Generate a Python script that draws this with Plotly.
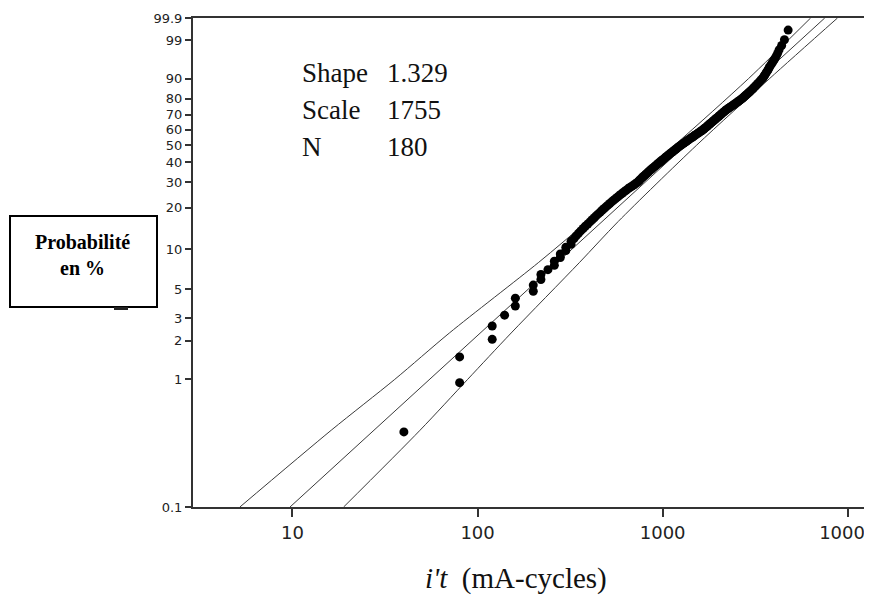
import numpy as np
import plotly.graph_objects as go

# ---- data (Weibull probability plot) ----
N_POINTS = 180
shape_txt = "1.329"
scale_txt = "1755"
n_txt = "180"

failure_x = [40, 80, 80, 120, 120, 140, 160, 160, 200, 200,
             220, 220, 240, 260, 260, 280, 280, 300, 300, 320,
             320, 332, 341, 351, 361, 372, 382, 394, 405, 416,
             427, 437, 449, 460, 471, 483, 494, 506, 518, 530,
             542, 555, 568, 581, 594, 607, 621, 635, 650, 665,
             681, 697, 713, 729, 741, 752, 764, 776, 787, 800,
             811, 824, 837, 849, 863, 877, 889, 904, 918, 931,
             946, 962, 975, 989, 1005, 1019, 1033, 1047, 1064, 1079,
             1094, 1109, 1127, 1143, 1159, 1178, 1194, 1211, 1227, 1247,
             1265, 1285, 1303, 1324, 1346, 1365, 1387, 1406, 1429, 1452,
             1472, 1496, 1517, 1542, 1567, 1589, 1614, 1637, 1663, 1683,
             1702, 1726, 1746, 1766, 1786, 1811, 1832, 1854, 1875, 1901,
             1923, 1945, 1972, 1995, 2018, 2042, 2070, 2094, 2118, 2148,
             2173, 2198, 2234, 2270, 2307, 2344, 2382, 2421, 2460, 2495,
             2535, 2576, 2618, 2661, 2698, 2735, 2773, 2812, 2851, 2891,
             2931, 2972, 3013, 3055, 3097, 3141, 3184, 3228, 3273, 3319,
             3365, 3412, 3467, 3508, 3548, 3589, 3631, 3681, 3724, 3767,
             3819, 3890, 3954, 4027, 4102, 4178, 4256, 4395, 4550, 4764]

fit_p = [0.1, 99.9]
fit_x = [9.7, 7510]

bound_p = [0.1, 0.4, 1, 2.3, 8, 16, 50, 90, 99.9]
upper_x = [5.2, 16.2, 35.7, 70.5, 214, 391, 1161, 2903, 6300]
lower_x = [18.9, 48.9, 88.4, 152, 356, 575, 1526, 3771, 8800]

y_tick_pct = [0.1, 1, 2, 3, 5, 10, 20, 30, 40, 50, 60, 70, 80, 90, 99, 99.9]
y_tick_txt = ["0.1", "1", "2", "3", "5", "10", "20", "30", "40", "50",
              "60", "70", "80", "90", "99", "99.9"]
x_tick_vals = [10, 100, 1000, 10000]
x_tick_txt = ["10", "100", "1000", "10000"]


def wb(p_pct):
    p = np.asarray(p_pct, dtype=float) / 100.0
    return np.log(-np.log(1.0 - p))


# median-rank plotting positions (Bernard)
ranks = np.arange(1, N_POINTS + 1)
pts_p = (ranks - 0.3) / (N_POINTS + 0.4) * 100.0

line_style = dict(color="#3a3a3a", width=1)

fig = go.Figure()
for xs, ps in [(upper_x, bound_p), (fit_x, fit_p), (lower_x, bound_p)]:
    fig.add_trace(go.Scatter(x=xs, y=wb(ps), mode="lines",
                             line=dict(**line_style, shape="spline", smoothing=0.8),
                             hoverinfo="skip", showlegend=False))

fig.add_trace(go.Scatter(x=failure_x, y=wb(pts_p), mode="markers",
                         marker=dict(color="black", size=9, line=dict(width=0)),
                         showlegend=False))

axis_col = "#333333"
fig.update_xaxes(type="log", range=[0.4627, 4.131],
                 showline=True, linecolor=axis_col, linewidth=2, mirror=True,
                 ticks="outside", ticklen=8, tickwidth=1.5, tickcolor=axis_col,
                 tickvals=x_tick_vals, ticktext=x_tick_txt,
                 ticklabeloverflow="allow",
                 tickfont=dict(family="DejaVu Sans", size=18, color="#222"),
                 showgrid=False, zeroline=False)
fig.update_yaxes(range=[float(wb(0.1)), float(wb(99.9))],
                 showline=True, linecolor=axis_col, linewidth=2, mirror=False,
                 ticks="outside", ticklen=6, tickwidth=1.5, tickcolor=axis_col,
                 tickvals=wb(y_tick_pct), ticktext=y_tick_txt,
                 tickfont=dict(family="DejaVu Sans", size=13, color="#222"),
                 showgrid=False, zeroline=False)

# page has an 8px body margin: work in reference coordinates, shift by OFF
OFF = 8
W, H = 872 - OFF, 596 - OFF
L, R, T = 193 - OFF, 0, 18 - OFF
B = H - (507 - OFF)
pw, ph = W - L - R, H - T - B


def px(xr):
    return (xr - OFF - L) / pw


def py(yr):
    return (H - B - (yr - OFF)) / ph


serif = "Liberation Serif"
ann = []
rows = [("Shape", shape_txt, 73), ("Scale", scale_txt, 110), ("N", n_txt, 147)]
for lab, val, yc in rows:
    ann.append(dict(x=px(300), y=py(yc), xref="paper", yref="paper", text=lab,
                    showarrow=False, xanchor="left", yanchor="middle",
                    font=dict(family=serif, size=27, color="#111")))
    ann.append(dict(x=px(385), y=py(yc), xref="paper", yref="paper", text=val,
                    showarrow=False, xanchor="left", yanchor="middle",
                    font=dict(family=serif, size=27, color="#111")))

ann.append(dict(x=px(423), y=py(578), xref="paper", yref="paper",
                text="<i>i't</i>\u00a0\u00a0(mA-cycles)",
                showarrow=False, xanchor="left", yanchor="middle",
                font=dict(family=serif, size=29, color="#111")))

ann.append(dict(x=px(82), y=py(255), xref="paper", yref="paper",
                text="<b>Probabilité</b><br><b>en %</b>",
                showarrow=False, xanchor="center", yanchor="middle",
                font=dict(family=serif, size=20, color="black")))

shapes = [
    dict(type="rect", xref="paper", yref="paper",
         x0=px(10), x1=px(157), y0=py(307), y1=py(216),
         line=dict(color="black", width=2), fillcolor="rgba(0,0,0,0)"),
    dict(type="rect", xref="paper", yref="paper",
         x0=px(114), x1=px(128), y0=py(310), y1=py(307),
         line=dict(width=0), fillcolor="#222"),
]

fig.update_layout(width=W, height=H,
                  margin=dict(l=L, r=R, t=T, b=B, autoexpand=False),
                  paper_bgcolor="white", plot_bgcolor="white",
                  annotations=ann, shapes=shapes, showlegend=False)

fig.write_html("out.html")
